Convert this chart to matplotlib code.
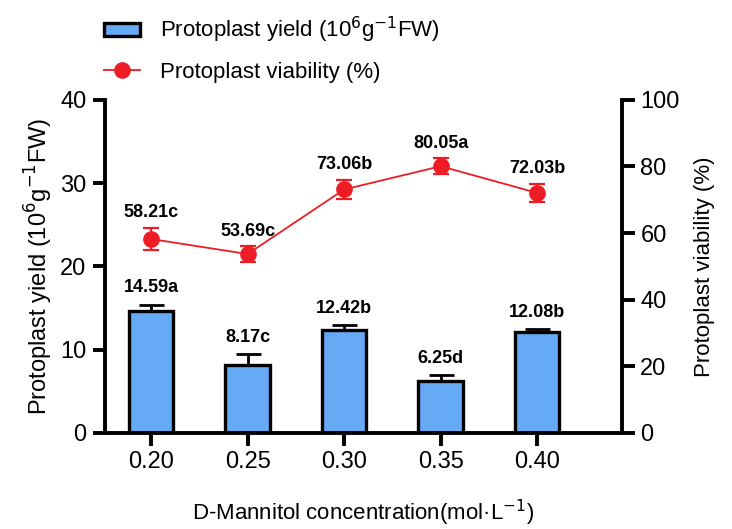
import matplotlib.pyplot as plt
from matplotlib.lines import Line2D
import numpy as np

plt.rcParams['font.family'] = ['Liberation Sans', 'DejaVu Sans']

conc = ["0.20", "0.25", "0.30", "0.35", "0.40"]
yield_vals = [14.59, 8.17, 12.42, 6.25, 12.08]
yield_err = [0.8, 1.3, 0.55, 0.7, 0.4]
yield_lbl = ["14.59a", "8.17c", "12.42b", "6.25d", "12.08b"]
viab_vals = [58.21, 53.69, 73.06, 80.05, 72.03]
viab_err = [3.4, 2.3, 2.9, 2.4, 2.7]
viab_lbl = ["58.21c", "53.69c", "73.06b", "80.05a", "72.03b"]

x = np.arange(len(conc))
fig = plt.figure(figsize=(7.32, 5.29), dpi=100)
ax = fig.add_axes([0.143, 0.1815, 0.707, 0.63])
ax2 = ax.twinx()

bars = ax.bar(x, yield_vals, width=0.46, color="#66AAF5", edgecolor="black",
              linewidth=2.4, zorder=2)
ax.errorbar(x, yield_vals, yerr=[np.zeros(5), yield_err], fmt="none",
            ecolor="black", elinewidth=2, capsize=9, capthick=2, zorder=1)
for xi, v, e, t in zip(x, yield_vals, yield_err, yield_lbl):
    ax.text(xi, v + e + 1.0, t, ha="center", va="bottom", fontsize=13, fontweight="bold")

ax2.errorbar(x, viab_vals, yerr=viab_err, color="#EE1C25", marker="o",
             markersize=11, linewidth=1.3, elinewidth=1.6, capsize=6,
             capthick=1.6)
for xi, v, e, t in zip(x, viab_vals, viab_err, viab_lbl):
    ax2.text(xi, v + e + 2.0, t, ha="center", va="bottom", fontsize=13, fontweight="bold")

ax.set_xlim(-0.48, 4.88)
ax.set_ylim(0, 40)
ax2.set_ylim(0, 100)
ax.set_yticks([0, 10, 20, 30, 40])
ax2.set_yticks([0, 20, 40, 60, 80, 100])
ax.set_xticks(x)
ax.set_xticklabels(conc)

for a in (ax, ax2):
    a.spines["top"].set_visible(False)
    for s in a.spines.values():
        s.set_linewidth(2.8)
    a.tick_params(width=2.8, length=9, labelsize=17, pad=4)
ax2.spines["left"].set_visible(False)
ax2.spines["bottom"].set_visible(False)
ax.spines["right"].set_visible(False)

ax.set_ylabel("Protoplast yield (10$^6$g$^{-1}$FW)", fontsize=17, labelpad=4)
ax2.set_ylabel("Protoplast viability (%)", fontsize=16, labelpad=10)
ax.set_xlabel("D-Mannitol concentration(mol·L$^{-1}$)", fontsize=16, labelpad=18)

line_handle = Line2D([], [], color="#EE1C25", marker="o", markersize=11, linewidth=1.3)
fig.legend(handles=[bars, line_handle],
           labels=["Protoplast yield (10$^6$g$^{-1}$FW)", "Protoplast viability (%)"],
           loc="upper left", bbox_to_anchor=(0.115, 1.01),
           frameon=False, fontsize=16, handlelength=1.6, handleheight=0.5,
           labelspacing=0.75, handletextpad=0.9)

fig.savefig("out.png", dpi=100)
